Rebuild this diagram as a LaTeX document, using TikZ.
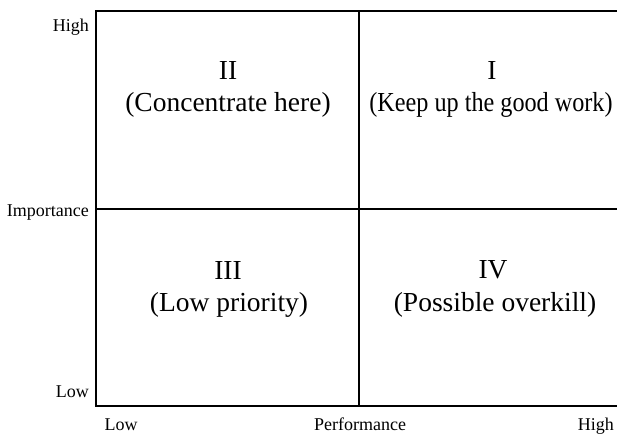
\documentclass[tikz,border=0pt]{standalone}
\usepackage{fontspec}
\usepackage{graphicx}
\setmainfont{Liberation Serif}
\begin{document}
\begin{tikzpicture}[x=1pt,y=-1pt,
  axislbl/.style={font=\fontsize{18}{20}\selectfont, inner sep=0pt},
  quadlbl/.style={font=\fontsize{27.5}{32}\selectfont, inner sep=0pt, align=center},
  frame/.style={line width=2.5pt}]
\useasboundingbox (0,0) rectangle (617,433);
% frame
\coordinate (tl) at (96,11);
\coordinate (tr) at (617,11);
\coordinate (bl) at (96,406);
\coordinate (br) at (617,406);
\coordinate (mt) at (359,11);
\coordinate (mb) at (359,406);
\coordinate (ml) at (96,209);
\coordinate (mr) at (617,209);
\draw[frame] (tr) -- (tl) -- (bl) -- (br);
\draw[frame] (mt) -- (mb);
\draw[frame] (ml) -- (mr);
% axis labels
\node[axislbl, anchor=base east] (yhigh) at (89,32) {High};
\node[axislbl, anchor=base east] (yimp) at (89,216) {Importance};
\node[axislbl, anchor=base east] (ylow) at (89,397) {Low};
\node[axislbl, anchor=base] (xlow) at (121,430) {Low};
\node[axislbl, anchor=base] (xperf) at (360,430) {Performance};
\node[axislbl, anchor=base east] (xhigh) at (614,430) {High};
% quadrant labels
\node[quadlbl] (q2n) at (228,70) {II};
\node[quadlbl] (q2t) at (228,105) {(Concentrate here)};
\node[quadlbl] (q1n) at (492,70) {I};
\node[quadlbl] (q1t) at (491,105) {\scalebox{0.88}[1]{(Keep up the good work)}};
\node[quadlbl] (q3n) at (228,270) {III};
\node[quadlbl] (q3t) at (229,305) {(Low priority)};
\node[quadlbl] (q4n) at (493,270) {IV};
\node[quadlbl] (q4t) at (495,305) {(Possible overkill)};
\end{tikzpicture}
\end{document}
